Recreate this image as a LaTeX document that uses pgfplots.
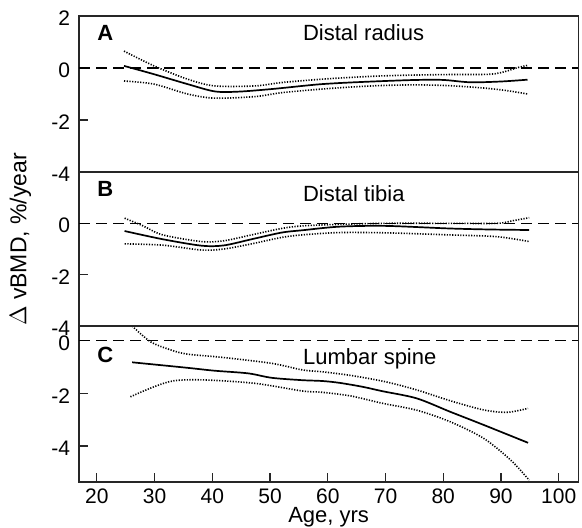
\documentclass[border=0pt]{standalone}
\usepackage{fontspec}
\setmainfont{Liberation Sans}
\usepackage{pgfplots}
\pgfplotsset{compat=1.18}
\pgfplotsset{
  panel/.style={
    scale only axis, width=249.65pt,
    xmin=16.9, xmax=103.4,
    axis line style={line width=0.6pt, black!85},
    tick align=inside, major tick length=4.5pt,
    tick style={line width=0.6pt, black!85},
    xtick pos=bottom, ytick pos=left,
    yticklabel style={font=\fontsize{10.5}{12}\selectfont, yshift=-1.2pt, xshift=-1pt},
    xticklabel style={font=\fontsize{10.5}{12}\selectfont},
    clip=true,
  },
  est/.style={line width=0.85pt, black, smooth},
  ci/.style={line width=0.8pt, black, smooth, dash pattern=on 0.6pt off 0.75pt},
  zero/.style={line width=0.75pt, black, dash pattern=on 5.5pt off 3pt},
}
\begin{document}
\begin{tikzpicture}
% Panel A
\begin{axis}[panel, at={(0pt,155pt)}, anchor=south west, height=78pt,
  ymin=-4, ymax=2, xtick=\empty, ytick={-4,-2,0,2}, yticklabels={-4,-2,0,2}]
\addplot[zero] coordinates {(16.9,0) (103.4,0)};
\addplot[est] coordinates {(24.7,0.08) (29.9,-0.24) (35.7,-0.62) (40.4,-0.9) (44.5,-0.91) (50.3,-0.81) (55.6,-0.69) (59,-0.62) (63.7,-0.56) (70,-0.5) (75.4,-0.46) (80,-0.46) (84.7,-0.55) (90,-0.52) (94.6,-0.45)};
\addplot[ci] coordinates {(24.7,0.65) (29.9,0.08) (35.7,-0.43) (40.4,-0.69) (47.4,-0.69) (52,-0.56) (59,-0.43) (65,-0.35) (70,-0.3) (75.4,-0.27) (82,-0.25) (88.2,-0.24) (91,-0.12) (92.8,0.01) (94.6,0.1)};
\addplot[ci] coordinates {(24.7,-0.5) (29.9,-0.62) (35.7,-1.0) (40.4,-1.16) (47.4,-1.1) (52,-0.95) (59,-0.81) (65,-0.72) (70,-0.67) (75.4,-0.65) (81,-0.68) (87,-0.77) (91,-0.87) (94.6,-1.0)};
\node[anchor=base west, inner sep=0pt, font=\fontsize{11}{13}\selectfont\bfseries] at (rel axis cs:0.036,0.846) {A};
\node[anchor=base west, inner sep=0pt, font=\fontsize{11}{13}\selectfont] at (rel axis cs:0.448,0.842) {Distal radius};
\end{axis}
% Panel B
\begin{axis}[panel, at={(0pt,78pt)}, anchor=south west, height=77pt,
  ymin=-4, ymax=2, xtick=\empty, ytick={-4,-2,0}, yticklabels={-4,-2,0}]
\addplot[zero] coordinates {(16.9,0) (103.4,0)};
\addplot[est] coordinates {(24.8,-0.3) (31.4,-0.62) (38.1,-0.87) (42,-0.86) (46.8,-0.62) (52,-0.36) (55.6,-0.27) (62,-0.13) (70,-0.1) (81,-0.2) (88,-0.24) (94.9,-0.26)};
\addplot[ci] coordinates {(24.8,0.2) (28,-0.1) (31.4,-0.45) (38.1,-0.71) (42,-0.68) (46.8,-0.45) (52,-0.2) (55.6,-0.1) (62,-0.04) (70,0) (81,0) (89.3,0) (92,0.1) (94.9,0.22)};
\addplot[ci] coordinates {(24.8,-0.8) (31.4,-0.85) (38.1,-1.04) (42,-1.0) (46.8,-0.8) (52,-0.55) (55.6,-0.45) (62,-0.36) (70,-0.37) (81,-0.45) (89.3,-0.52) (94.9,-0.71)};
\node[anchor=base west, inner sep=0pt, font=\fontsize{11}{13}\selectfont\bfseries] at (rel axis cs:0.036,0.844) {B};
\node[anchor=base west, inner sep=0pt, font=\fontsize{11}{13}\selectfont] at (rel axis cs:0.448,0.807) {Distal tibia};
\end{axis}
% Panel C
\begin{axis}[panel, at={(0pt,0pt)}, anchor=south west, height=78pt,
  ymin=-5.37, ymax=0.56, xtick={20,30,...,100}, xticklabels={20,30,40,50,60,70,80,90,100},
  ytick={-4,-2,0}, yticklabels={-4,-2,0},
  xlabel={Age, yrs}, xlabel style={font=\fontsize{11}{13}\selectfont, yshift=5pt}]
\addplot[zero] coordinates {(16.9,0) (103.4,0)};
\addplot[est] coordinates {(26.1,-0.82) (35.7,-1.03) (40.4,-1.14) (46.2,-1.24) (50.3,-1.41) (55.6,-1.5) (59,-1.53) (62,-1.6) (66,-1.75) (69.5,-1.92) (75.4,-2.19) (81.2,-2.7) (87,-3.2) (94.7,-3.88)};
\addplot[ci] coordinates {(26.1,0.56) (29.3,-0.04) (32.8,-0.35) (35.7,-0.51) (41.6,-0.63) (50.3,-0.86) (55.6,-1.11) (59,-1.18) (64,-1.32) (70,-1.56) (75.4,-1.87) (81.2,-2.28) (87,-2.63) (91.1,-2.72) (94.7,-2.57)};
\addplot[ci] coordinates {(25.8,-2.13) (29.9,-1.75) (33.4,-1.52) (38.6,-1.49) (47.4,-1.62) (55.6,-1.91) (59,-1.96) (64,-2.1) (69.5,-2.38) (75.4,-2.64) (81.2,-3.08) (87,-3.71) (91.7,-4.54) (94.9,-5.3)};
\node[anchor=base west, inner sep=0pt, font=\fontsize{11}{13}\selectfont\bfseries] at (rel axis cs:0.036,0.763) {C};
\node[anchor=base west, inner sep=0pt, font=\fontsize{11}{13}\selectfont] at (rel axis cs:0.448,0.75) {Lumbar spine};
\end{axis}
\draw[line width=1pt, black!85] (0pt,78pt) -- (249.65pt,78pt);
\draw[line width=1pt, black!85] (0pt,155pt) -- (249.65pt,155pt);
\node[rotate=90, font=\fontsize{11.5}{13}\selectfont] at (-29.25pt,121.25pt) {$\Delta$ vBMD, \%/year};
\pgfresetboundingbox
\path (-39.5pt,-23pt) rectangle (251.5pt,241pt);
\end{tikzpicture}
\end{document}
